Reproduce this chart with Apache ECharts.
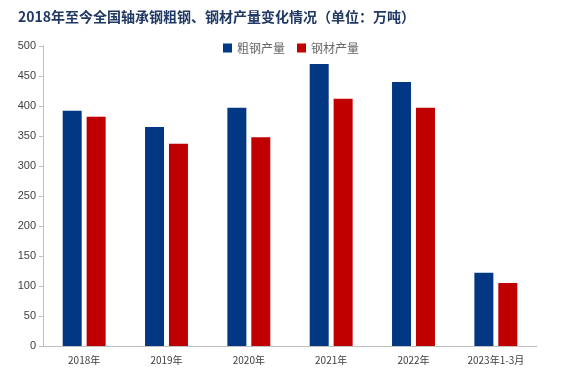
<!DOCTYPE html>
<html><head><meta charset="utf-8">
<script src="https://cdn.jsdelivr.net/npm/echarts@6/dist/echarts.min.js"></script>
<style>html,body{margin:0;padding:0;background:#fff}#c{width:571px;height:374px}</style>
</head><body><div id="c"></div>
<script>
const categories = ['2018年','2019年','2020年','2021年','2022年','2023年1-3月'];
const crudeSteel = [392, 365, 397, 470, 440, 122];
const steelProducts = [382, 337, 348, 412, 397, 105];
const seriesNames = ['粗钢产量','钢材产量'];
const titleText = '2018年至今全国轴承钢粗钢、钢材产量变化情况（单位：万吨）';

const chart = echarts.init(document.getElementById('c'));
chart.setOption({
  animation: false,
  title: {
    text: titleText, left: 13, top: 5,
    textStyle: {fontFamily: 'Noto Sans CJK SC', fontWeight: 'bold', fontSize: 14, color: '#1f3864'}
  },
  legend: {
    data: seriesNames, top: 37, left: 218, itemWidth: 9, itemHeight: 9, itemGap: 12,
    icon: 'rect',
    textStyle: {fontFamily: 'Noto Sans CJK SC', fontSize: 12, color: '#666'}
  },
  grid: {left: 43, right: 34, top: 46, bottom: 28, containLabel: false},
  xAxis: {
    type: 'category', data: categories,
    axisLine: {lineStyle: {color: '#bfbfbf'}},
    axisTick: {show: false},
    axisLabel: {fontFamily: 'Noto Sans CJK SC', fontSize: 10, color: '#404040', margin: 9}
  },
  yAxis: {
    type: 'value', min: 0, max: 500, interval: 50,
    axisLine: {show: true, lineStyle: {color: '#bfbfbf'}},
    axisTick: {show: true, length: 4, lineStyle: {color: '#bfbfbf'}},
    splitLine: {show: false},
    axisLabel: {fontFamily: 'Liberation Sans', fontSize: 11, color: '#404040', margin: 7}
  },
  series: [
    {name: seriesNames[0], type: 'bar', data: crudeSteel, barWidth: 19, barGap: '26%',
     itemStyle: {color: '#023883'}},
    {name: seriesNames[1], type: 'bar', data: steelProducts, barWidth: 19,
     itemStyle: {color: '#c00000'}}
  ]
});
</script></body></html>
